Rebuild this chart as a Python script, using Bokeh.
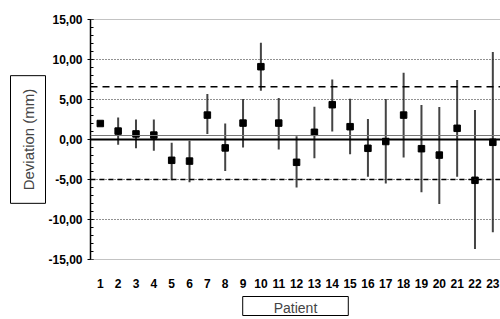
import math
from bokeh.plotting import figure
from bokeh.models import FixedTicker, Span, Title, ColumnDataSource
from bokeh.embed import file_html
from bokeh.resources import INLINE

# ---- data ----
patients = list(range(1, 24))
means = [2.0, 1.05, 0.7, 0.55, -2.6, -2.7, 3.05, -1.05, 2.05, 9.1, 2.05, -2.85,
         0.9, 4.35, 1.6, -1.1, -0.25, 3.05, -1.15, -1.95, 1.4, -5.1, -0.35]
upper = [2.0, 2.75, 2.5, 2.5, -0.4, -0.15, 5.7, 2.0, 5.05, 12.1, 5.2, 0.4,
         4.1, 7.5, 5.1, 2.55, 5.05, 8.35, 4.3, 4.05, 7.45, 3.7, 10.95]
lower = [2.0, -0.65, -1.1, -1.4, -5.1, -5.35, 0.7, -3.95, -1.0, 6.1, -1.25, -6.0,
         -2.35, 1.0, -1.85, -4.65, -5.5, -2.25, -6.6, -8.05, -4.65, -13.7, -11.6]
ytick_values = [-15, -10, -5, 0, 5, 10, 15]
ytick_labels = ["-15,00", "-10,00", "-5,00", "0,00", "5,00", "10,00", "15,00"]
xtick_labels = [str(i) for i in patients]
mean_line = 0.5
upper_limit = 6.6
lower_limit = -5.0
gridlines = [10, 5, -10]

FONT = "Liberation Sans"

p = figure(width=500, height=319, output_backend="svg", toolbar_location=None,
           x_range=(0.45, 23.43), y_range=(-15, 15),
           min_border_left=84, min_border_right=0, min_border_top=19, min_border_bottom=60)
p.outline_line_color = None
p.xgrid.visible = False
p.ygrid.visible = False

# y axis
ya = p.yaxis[0]
ya.ticker = FixedTicker(ticks=ytick_values, minor_ticks=list(range(-15, 16)))
ya.major_label_overrides = {v: s for v, s in zip(ytick_values, ytick_labels)}
ya.major_label_text_font = FONT
ya.major_label_text_font_style = "bold"
ya.major_label_text_font_size = "12px"
ya.major_label_text_color = "black"
ya.axis_line_color = "black"
ya.axis_line_width = 1.5
ya.major_tick_in = 3
ya.major_tick_out = 3
ya.minor_tick_in = 3
ya.minor_tick_out = 0
ya.minor_tick_line_color = "black"
ya.major_label_standoff = 5

# x axis
xa = p.xaxis[0]
xa.ticker = FixedTicker(ticks=patients)
xa.major_label_overrides = {i: s for i, s in zip(patients, xtick_labels)}
xa.axis_line_color = None
xa.major_tick_line_color = None
xa.minor_tick_line_color = None
xa.major_label_text_font = FONT
xa.major_label_text_font_style = "bold"
xa.major_label_text_font_size = "12px"
xa.major_label_text_color = "black"
xa.major_label_standoff = 13

# boxed axis titles
p.add_layout(Title(text="Deviation (mm)", align="center", text_font=FONT,
                   text_font_size="15px", text_font_style="normal",
                   border_line_color="black", padding=(13, 13, 9, 9), standoff=0), "left")
p.add_layout(Title(text="Patient", align="center", text_font=FONT,
                   text_font_size="14px", text_font_style="normal",
                   border_line_color="black", padding=(31, 31, 3, 0),
                   standoff=8, offset=9), "below")

# reference lines
for g in gridlines:
    p.add_layout(Span(location=g, dimension="width", line_color="#222222",
                      line_width=1, line_dash="1 2"))
p.add_layout(Span(location=lower_limit, dimension="width", line_color="#222222",
                  line_width=1, line_dash="1 2"))
p.add_layout(Span(location=lower_limit, dimension="width", line_color="black",
                  line_width=1.5, line_dash="5 4"))
p.add_layout(Span(location=upper_limit, dimension="width", line_color="black",
                  line_width=1.5, line_dash="7 5"))
p.add_layout(Span(location=0, dimension="width", line_color="black", line_width=2))
p.add_layout(Span(location=mean_line, dimension="width", line_color="#777777", line_width=1))
p.add_layout(Span(location=15, dimension="width", line_color="#888888", line_width=1))
p.add_layout(Span(location=-15, dimension="width", line_color="#888888", line_width=1))

src = ColumnDataSource(dict(x=patients, y=means, lo=lower, hi=upper))
p.segment(x0="x", y0="lo", x1="x", y1="hi", source=src, line_color="#444444", line_width=2)
p.scatter(x="x", y="y", source=src, marker="square", size=6.5, fill_color="black",
          line_color="black")

open("out.html", "w").write(file_html(p, INLINE))
